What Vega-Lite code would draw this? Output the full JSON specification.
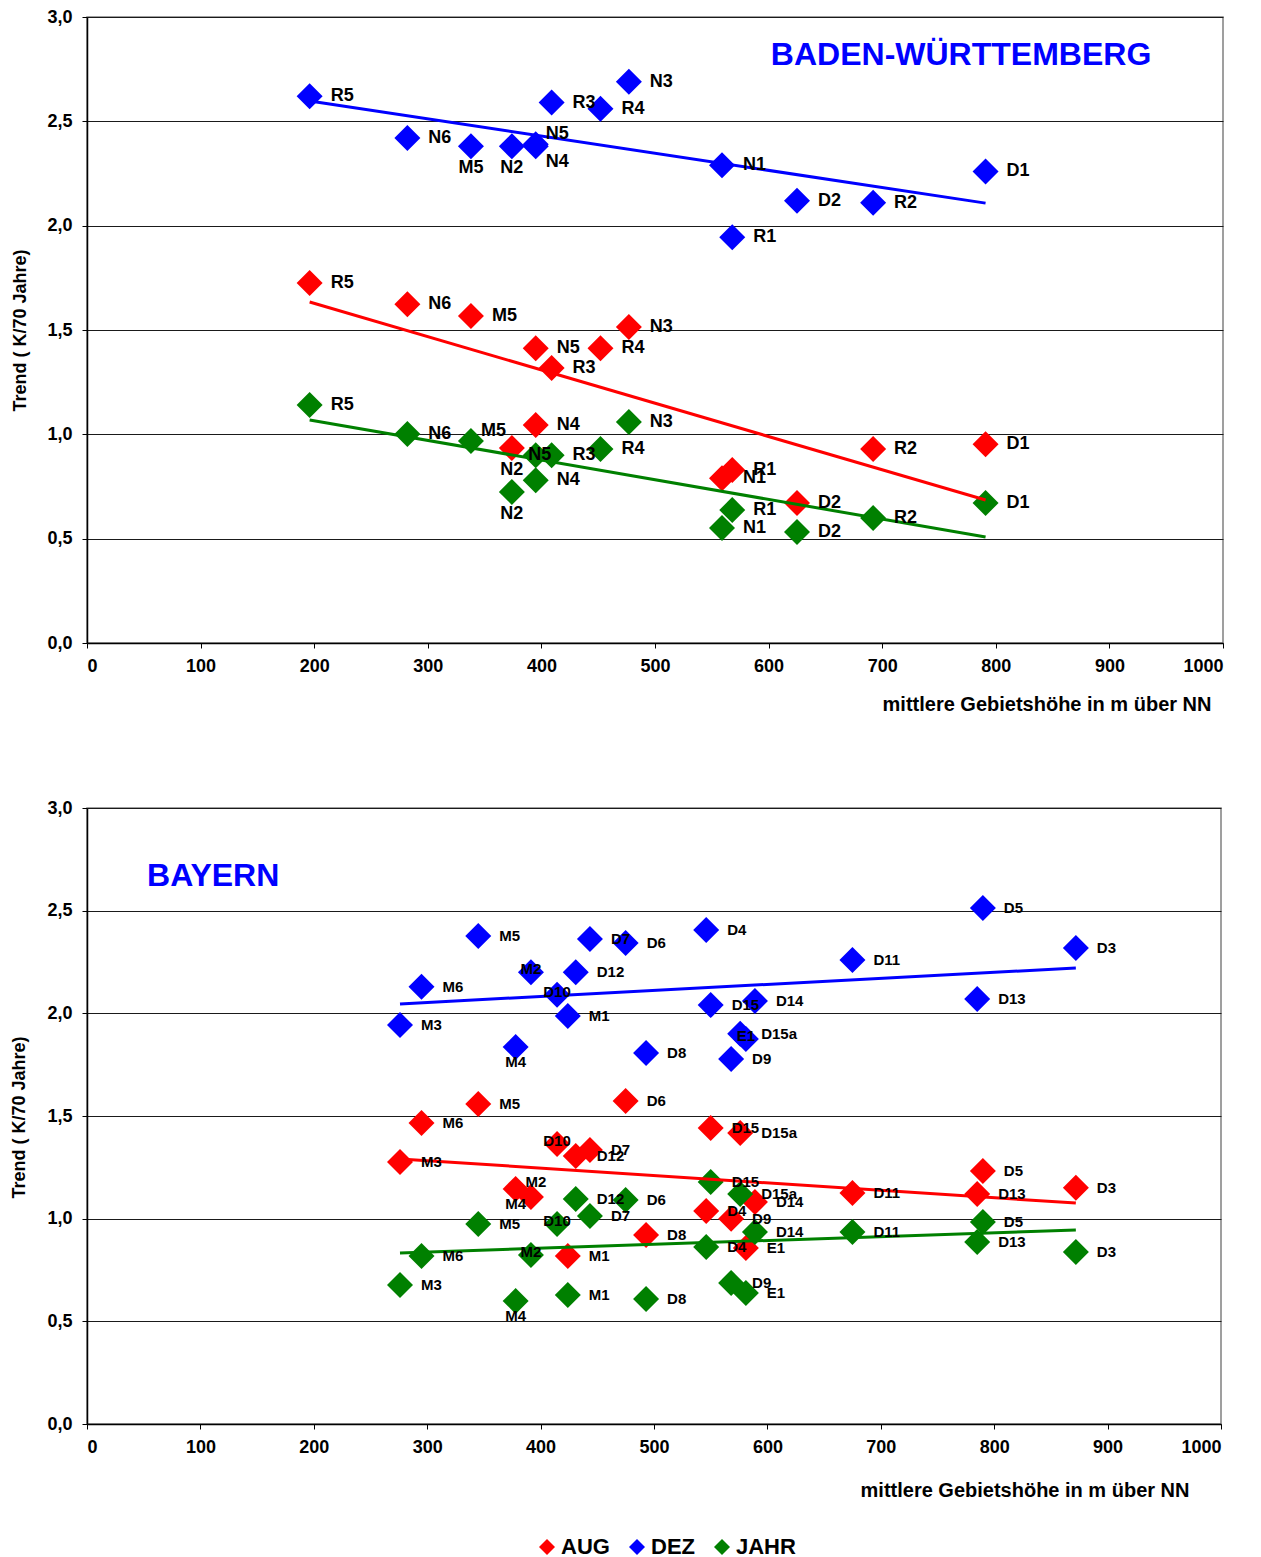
{
  "$schema": "https://vega.github.io/schema/vega-lite/v6.json",
  "background": "white",
  "padding": {"left": 9, "top": 7, "right": 5, "bottom": 5},
  "datasets": {
    "bw": [
      {"s": "DEZ", "l": "R5", "x": 196, "y": 2.62},
      {"s": "DEZ", "l": "N6", "x": 282, "y": 2.42},
      {"s": "DEZ", "l": "M5", "x": 338, "y": 2.38},
      {"s": "DEZ", "l": "N2", "x": 374, "y": 2.38},
      {"s": "DEZ", "l": "N5", "x": 395, "y": 2.39},
      {"s": "DEZ", "l": "N4", "x": 395, "y": 2.38},
      {"s": "DEZ", "l": "R3", "x": 409, "y": 2.59},
      {"s": "DEZ", "l": "R4", "x": 452, "y": 2.56},
      {"s": "DEZ", "l": "N3", "x": 477, "y": 2.69},
      {"s": "DEZ", "l": "N1", "x": 559, "y": 2.29},
      {"s": "DEZ", "l": "R1", "x": 568, "y": 1.945},
      {"s": "DEZ", "l": "D2", "x": 625, "y": 2.12},
      {"s": "DEZ", "l": "R2", "x": 692, "y": 2.11},
      {"s": "DEZ", "l": "D1", "x": 791, "y": 2.26},
      {"s": "AUG", "l": "R5", "x": 196, "y": 1.725},
      {"s": "AUG", "l": "N6", "x": 282, "y": 1.624},
      {"s": "AUG", "l": "M5", "x": 338, "y": 1.567},
      {"s": "AUG", "l": "N2", "x": 374, "y": 0.934},
      {"s": "AUG", "l": "N5", "x": 395, "y": 1.413},
      {"s": "AUG", "l": "N4", "x": 395, "y": 1.045},
      {"s": "AUG", "l": "R3", "x": 409, "y": 1.318},
      {"s": "AUG", "l": "R4", "x": 452, "y": 1.413},
      {"s": "AUG", "l": "N3", "x": 477, "y": 1.514},
      {"s": "AUG", "l": "N1", "x": 559, "y": 0.79},
      {"s": "AUG", "l": "R1", "x": 568, "y": 0.829},
      {"s": "AUG", "l": "D2", "x": 625, "y": 0.671},
      {"s": "AUG", "l": "R2", "x": 692, "y": 0.93},
      {"s": "AUG", "l": "D1", "x": 791, "y": 0.953},
      {"s": "JAHR", "l": "R5", "x": 196, "y": 1.14},
      {"s": "JAHR", "l": "N6", "x": 282, "y": 1.001},
      {"s": "JAHR", "l": "M5", "x": 338, "y": 0.968},
      {"s": "JAHR", "l": "N2", "x": 374, "y": 0.724},
      {"s": "JAHR", "l": "N5", "x": 395, "y": 0.9},
      {"s": "JAHR", "l": "N4", "x": 395, "y": 0.78},
      {"s": "JAHR", "l": "R3", "x": 409, "y": 0.9},
      {"s": "JAHR", "l": "R4", "x": 452, "y": 0.93},
      {"s": "JAHR", "l": "N3", "x": 477, "y": 1.059},
      {"s": "JAHR", "l": "N1", "x": 559, "y": 0.551},
      {"s": "JAHR", "l": "R1", "x": 568, "y": 0.637},
      {"s": "JAHR", "l": "D2", "x": 625, "y": 0.532},
      {"s": "JAHR", "l": "R2", "x": 692, "y": 0.599},
      {"s": "JAHR", "l": "D1", "x": 791, "y": 0.671}
    ],
    "bwTrend": [
      {"s": "DEZ", "x": 196, "y": 2.597},
      {"s": "DEZ", "x": 791, "y": 2.108},
      {"s": "AUG", "x": 196, "y": 1.634},
      {"s": "AUG", "x": 791, "y": 0.685},
      {"s": "JAHR", "x": 196, "y": 1.069},
      {"s": "JAHR", "x": 791, "y": 0.508}
    ],
    "bwTitle": [{"t": "BADEN-WÜRTTEMBERG", "x": 602, "y": 2.82}],
    "by": [
      {"s": "DEZ", "l": "M3", "x": 276, "y": 1.943},
      {"s": "DEZ", "l": "M6", "x": 295, "y": 2.129},
      {"s": "DEZ", "l": "M5", "x": 345, "y": 2.377},
      {"s": "DEZ", "l": "M4", "x": 378, "y": 1.836},
      {"s": "DEZ", "l": "M2", "x": 391.5, "y": 2.2},
      {"s": "DEZ", "l": "D10", "x": 414.5, "y": 2.09},
      {"s": "DEZ", "l": "M1", "x": 424, "y": 1.987},
      {"s": "DEZ", "l": "D12", "x": 431, "y": 2.2},
      {"s": "DEZ", "l": "D7", "x": 443.5, "y": 2.362},
      {"s": "DEZ", "l": "D6", "x": 475, "y": 2.343},
      {"s": "DEZ", "l": "D8", "x": 493, "y": 1.807},
      {"s": "DEZ", "l": "D4", "x": 546, "y": 2.406},
      {"s": "DEZ", "l": "D15", "x": 550, "y": 2.04},
      {"s": "DEZ", "l": "D9", "x": 568, "y": 1.778},
      {"s": "DEZ", "l": "D15a", "x": 576, "y": 1.9},
      {"s": "DEZ", "l": "E1", "x": 581, "y": 1.875},
      {"s": "DEZ", "l": "D14", "x": 589, "y": 2.06},
      {"s": "DEZ", "l": "D11", "x": 675, "y": 2.26},
      {"s": "DEZ", "l": "D13", "x": 785, "y": 2.07},
      {"s": "DEZ", "l": "D5", "x": 790, "y": 2.513},
      {"s": "DEZ", "l": "D3", "x": 872, "y": 2.318},
      {"s": "AUG", "l": "M3", "x": 276, "y": 1.276},
      {"s": "AUG", "l": "M6", "x": 295, "y": 1.466},
      {"s": "AUG", "l": "M5", "x": 345, "y": 1.559},
      {"s": "AUG", "l": "M4", "x": 378, "y": 1.145},
      {"s": "AUG", "l": "M2", "x": 391.5, "y": 1.106},
      {"s": "AUG", "l": "D10", "x": 414.5, "y": 1.364},
      {"s": "AUG", "l": "M1", "x": 424, "y": 0.818},
      {"s": "AUG", "l": "D12", "x": 431, "y": 1.305},
      {"s": "AUG", "l": "D7", "x": 443.5, "y": 1.335},
      {"s": "AUG", "l": "D6", "x": 475, "y": 1.573},
      {"s": "AUG", "l": "D8", "x": 493, "y": 0.921},
      {"s": "AUG", "l": "D4", "x": 546, "y": 1.037},
      {"s": "AUG", "l": "D15", "x": 550, "y": 1.442},
      {"s": "AUG", "l": "D9", "x": 568, "y": 0.999},
      {"s": "AUG", "l": "D15a", "x": 576, "y": 1.417},
      {"s": "AUG", "l": "E1", "x": 581, "y": 0.857},
      {"s": "AUG", "l": "D14", "x": 589, "y": 1.081},
      {"s": "AUG", "l": "D11", "x": 675, "y": 1.125},
      {"s": "AUG", "l": "D13", "x": 785, "y": 1.12},
      {"s": "AUG", "l": "D5", "x": 790, "y": 1.232},
      {"s": "AUG", "l": "D3", "x": 872, "y": 1.15},
      {"s": "JAHR", "l": "M3", "x": 276, "y": 0.677},
      {"s": "JAHR", "l": "M6", "x": 295, "y": 0.818},
      {"s": "JAHR", "l": "M5", "x": 345, "y": 0.974},
      {"s": "JAHR", "l": "M4", "x": 378, "y": 0.599},
      {"s": "JAHR", "l": "M2", "x": 391.5, "y": 0.823},
      {"s": "JAHR", "l": "D10", "x": 414.5, "y": 0.974},
      {"s": "JAHR", "l": "M1", "x": 424, "y": 0.628},
      {"s": "JAHR", "l": "D12", "x": 431, "y": 1.096},
      {"s": "JAHR", "l": "D7", "x": 443.5, "y": 1.013},
      {"s": "JAHR", "l": "D6", "x": 475, "y": 1.091},
      {"s": "JAHR", "l": "D8", "x": 493, "y": 0.609},
      {"s": "JAHR", "l": "D4", "x": 546, "y": 0.862},
      {"s": "JAHR", "l": "D15", "x": 550, "y": 1.179},
      {"s": "JAHR", "l": "D9", "x": 568, "y": 0.687},
      {"s": "JAHR", "l": "D15a", "x": 576, "y": 1.12},
      {"s": "JAHR", "l": "E1", "x": 581, "y": 0.638},
      {"s": "JAHR", "l": "D14", "x": 589, "y": 0.935},
      {"s": "JAHR", "l": "D11", "x": 675, "y": 0.935},
      {"s": "JAHR", "l": "D13", "x": 785, "y": 0.886},
      {"s": "JAHR", "l": "D5", "x": 790, "y": 0.984},
      {"s": "JAHR", "l": "D3", "x": 872, "y": 0.838}
    ],
    "byTrend": [
      {"s": "DEZ", "x": 276, "y": 2.046},
      {"s": "DEZ", "x": 872, "y": 2.221},
      {"s": "AUG", "x": 276, "y": 1.291},
      {"s": "AUG", "x": 872, "y": 1.076},
      {"s": "JAHR", "x": 276, "y": 0.833},
      {"s": "JAHR", "x": 872, "y": 0.945}
    ],
    "byTitle": [{"t": "BAYERN", "x": 53, "y": 2.67}]
  },
  "spacing": 83,
  "resolve": {"scale": {"color": "shared", "stroke": "shared"}, "legend": {"color": "shared"}},
  "vconcat": [
    {
      "width": 1136,
      "height": 626,
      "encoding": {
        "x": {
          "field": "x", "type": "quantitative",
          "scale": {"domain": [0, 1000], "nice": false},
          "axis": {
            "values": [0, 100, 200, 300, 400, 500, 600, 700, 800, 900, 1000],
            "format": "d",
            "grid": false,
            "title": "mittlere Gebietshöhe in m über NN",
            "titleX": 1124, "titleY": 61, "titleAlign": "right", "titleBaseline": "middle"
          }
        },
        "y": {
          "field": "y", "type": "quantitative",
          "scale": {"domain": [0, 3], "nice": false},
          "axis": {
            "values": [0, 0.5, 1, 1.5, 2, 2.5, 3],
            "labelExpr": "replace(format(datum.value, '.1f'), '.', ',')",
            "title": "Trend ( K/70 Jahre)",
            "titleX": -67, "titleY": 313, "titleBaseline": "middle", "titleAlign": "center"
          }
        }
      },
      "layer": [
        {
          "data": {"name": "bw"},
          "mark": {"type": "point", "shape": "diamond", "filled": true, "size": 676, "opacity": 1, "strokeWidth": 0},
          "encoding": {
            "color": {"field": "s", "type": "nominal", "title": null,
              "scale": {"domain": ["AUG", "DEZ", "JAHR"], "range": ["#ff0000", "#0000ff", "#008000"]},
              "legend": {"symbolType": "diamond", "orient": "none", "legendX": 449, "legendY": 1519}}
          }
        },
        {
          "data": {"name": "bwTrend"},
          "mark": {"type": "line", "strokeWidth": 3},
          "encoding": {
            "stroke": {"field": "s", "type": "nominal", "legend": null,
              "scale": {"domain": ["AUG", "DEZ", "JAHR"], "range": ["#ff0000", "#0000ff", "#008000"]}}
          }
        },
        {
          "data": {"name": "bw"},
          "transform": [{"filter": "indexof(['DEZ|M5','DEZ|N2','AUG|N2','JAHR|N2','JAHR|N5','DEZ|N4','DEZ|N5','JAHR|M5'], datum.s + '|' + datum.l) < 0"}],
          "mark": {"type": "text", "align": "left", "baseline": "middle", "dx": 21, "fontSize": 18, "fontWeight": "bold", "color": "black", "font": "Liberation Sans"},
          "encoding": {"text": {"field": "l"}}
        },
        {
          "data": {"name": "bw"},
          "transform": [{"filter": "indexof(['DEZ|M5','DEZ|N2','AUG|N2','JAHR|N2'], datum.s + '|' + datum.l) >= 0"}],
          "mark": {"type": "text", "align": "center", "baseline": "middle", "dy": 22, "fontSize": 18, "fontWeight": "bold", "color": "black", "font": "Liberation Sans"},
          "encoding": {"text": {"field": "l"}}
        },
        {
          "data": {"name": "bw"},
          "transform": [{"filter": "indexof(['JAHR|N5'], datum.s + '|' + datum.l) >= 0"}],
          "mark": {"type": "text", "align": "center", "baseline": "middle", "dx": 4, "fontSize": 18, "fontWeight": "bold", "color": "black", "font": "Liberation Sans"},
          "encoding": {"text": {"field": "l"}}
        },
        {
          "data": {"name": "bw"},
          "transform": [{"filter": "indexof(['DEZ|N4'], datum.s + '|' + datum.l) >= 0"}],
          "mark": {"type": "text", "align": "left", "baseline": "middle", "dx": 10, "dy": 16, "fontSize": 18, "fontWeight": "bold", "color": "black", "font": "Liberation Sans"},
          "encoding": {"text": {"field": "l"}}
        },
        {
          "data": {"name": "bw"},
          "transform": [{"filter": "indexof(['DEZ|N5','JAHR|M5'], datum.s + '|' + datum.l) >= 0"}],
          "mark": {"type": "text", "align": "left", "baseline": "middle", "dx": 10, "dy": -10, "fontSize": 18, "fontWeight": "bold", "color": "black", "font": "Liberation Sans"},
          "encoding": {"text": {"field": "l"}}
        },
        {
          "data": {"name": "bwTitle"},
          "mark": {"type": "text", "align": "left", "baseline": "middle", "fontSize": 32, "fontWeight": "bold", "color": "#0000ff", "font": "Liberation Sans"},
          "encoding": {"text": {"field": "t"}}
        }
      ]
    },
    {
      "width": 1134,
      "height": 616,
      "encoding": {
        "x": {
          "field": "x", "type": "quantitative",
          "scale": {"domain": [0, 1000], "nice": false},
          "axis": {
            "values": [0, 100, 200, 300, 400, 500, 600, 700, 800, 900, 1000],
            "format": "d",
            "grid": false,
            "title": "mittlere Gebietshöhe in m über NN",
            "titleX": 1102, "titleY": 66, "titleAlign": "right", "titleBaseline": "middle"
          }
        },
        "y": {
          "field": "y", "type": "quantitative",
          "scale": {"domain": [0, 3], "nice": false},
          "axis": {
            "values": [0, 0.5, 1, 1.5, 2, 2.5, 3],
            "labelExpr": "replace(format(datum.value, '.1f'), '.', ',')",
            "title": "Trend ( K/70 Jahre)",
            "titleX": -68, "titleY": 309, "titleBaseline": "middle", "titleAlign": "center"
          }
        }
      },
      "layer": [
        {
          "data": {"name": "by"},
          "mark": {"type": "point", "shape": "diamond", "filled": true, "size": 676, "opacity": 1, "strokeWidth": 0},
          "encoding": {
            "color": {"field": "s", "type": "nominal", "title": null, "legend": {"symbolType": "diamond", "orient": "none", "legendX": 449, "legendY": 1519}}
          }
        },
        {
          "data": {"name": "byTrend"},
          "mark": {"type": "line", "strokeWidth": 3},
          "encoding": {
            "stroke": {"field": "s", "type": "nominal", "legend": null}
          }
        },
        {
          "data": {"name": "by"},
          "transform": [{"filter": "indexof(['DEZ|M4','AUG|M4','JAHR|M4','DEZ|M2','DEZ|D10','DEZ|E1','AUG|D10','JAHR|D10','JAHR|M2','AUG|M2'], datum.s + '|' + datum.l) < 0"}],
          "mark": {"type": "text", "align": "left", "baseline": "middle", "dx": 21, "fontSize": 15, "fontWeight": "bold", "color": "black", "font": "Liberation Sans"},
          "encoding": {"text": {"field": "l"}}
        },
        {
          "data": {"name": "by"},
          "transform": [{"filter": "indexof(['DEZ|M4','AUG|M4','JAHR|M4'], datum.s + '|' + datum.l) >= 0"}],
          "mark": {"type": "text", "align": "center", "baseline": "middle", "dy": 15, "fontSize": 15, "fontWeight": "bold", "color": "black", "font": "Liberation Sans"},
          "encoding": {"text": {"field": "l"}}
        },
        {
          "data": {"name": "by"},
          "transform": [{"filter": "indexof(['DEZ|M2','DEZ|D10','DEZ|E1','AUG|D10','JAHR|D10','JAHR|M2'], datum.s + '|' + datum.l) >= 0"}],
          "mark": {"type": "text", "align": "center", "baseline": "middle", "dy": -3, "fontSize": 15, "fontWeight": "bold", "color": "black", "font": "Liberation Sans"},
          "encoding": {"text": {"field": "l"}}
        },
        {
          "data": {"name": "by"},
          "transform": [{"filter": "indexof(['AUG|M2'], datum.s + '|' + datum.l) >= 0"}],
          "mark": {"type": "text", "align": "center", "baseline": "middle", "dx": 5, "dy": -15, "fontSize": 15, "fontWeight": "bold", "color": "black", "font": "Liberation Sans"},
          "encoding": {"text": {"field": "l"}}
        },
        {
          "data": {"name": "byTitle"},
          "mark": {"type": "text", "align": "left", "baseline": "middle", "fontSize": 32, "fontWeight": "bold", "color": "#0000ff", "font": "Liberation Sans"},
          "encoding": {"text": {"field": "t"}}
        }
      ]
    }
  ],
  "config": {
    "font": "Liberation Sans",
    "view": {"stroke": "#808080", "strokeWidth": 1.5},
    "axis": {
      "domainColor": "#000000", "domainWidth": 1.5,
      "tickColor": "#000000", "tickSize": 5, "tickWidth": 1,
      "gridColor": "#1a1a1a", "gridWidth": 1, "gridOpacity": 1,
      "labelFont": "Liberation Sans", "labelFontSize": 18, "labelFontWeight": "bold", "labelColor": "#000000",
      "titleFont": "Liberation Sans", "titleFontSize": 20, "titleFontWeight": "bold", "titleColor": "#000000"
    },
    "axisY": {"labelPadding": 10, "titleFontSize": 18},
    "axisX": {"labelPadding": 9},
    "legend": {
      "direction": "horizontal",
      "labelFont": "Liberation Sans", "labelFontSize": 22, "labelFontWeight": "bold", "labelColor": "#000000",
      "symbolType": "diamond", "symbolSize": 256, "symbolStrokeWidth": 0, "symbolOpacity": 1,
      "labelOffset": 3, "columnPadding": 16
    }
  }
}
